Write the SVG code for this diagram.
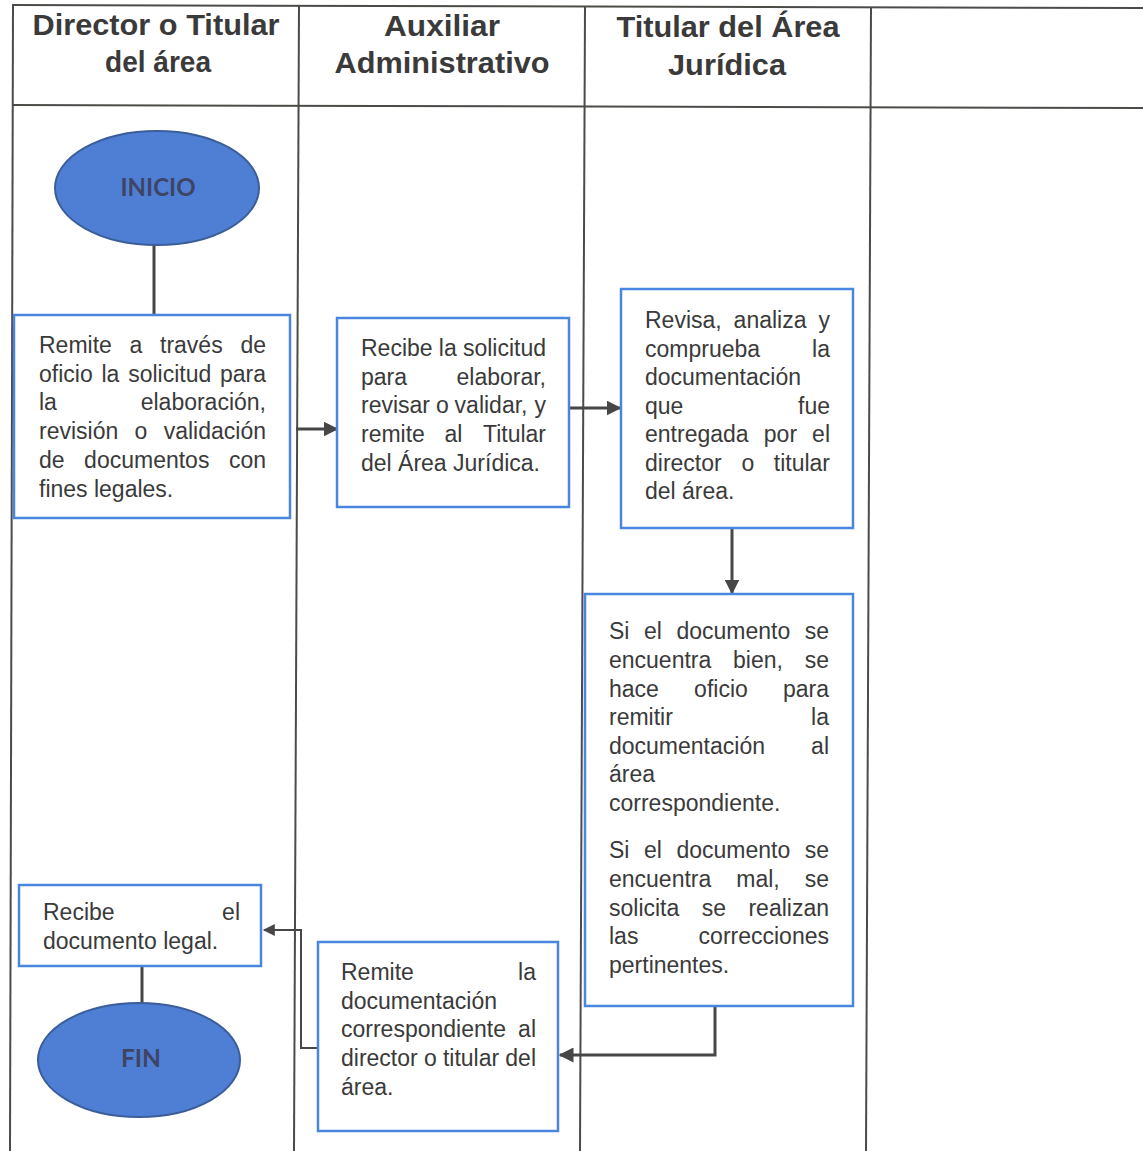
<svg xmlns="http://www.w3.org/2000/svg" width="1143" height="1151" viewBox="0 0 1143 1151">
<style>
.grid{stroke:#4d4b48;stroke-width:2;fill:none}
.hdr{font-family:"Liberation Sans",Arial,sans-serif;font-weight:bold;font-size:29px;fill:#3a3a3a;text-anchor:middle}
.box{fill:#ffffff;stroke:#4a86e0;stroke-width:2.5}
.t{font-family:"Liberation Sans",Arial,sans-serif;font-size:23px;fill:#3a3a3a}
.e{text-anchor:end}
.oval{fill:#4f7fd4;stroke:#3b5d99;stroke-width:2}
.ot{font-family:Lato,"Open Sans",sans-serif;font-weight:bold;font-size:24px;fill:#3e4464;text-anchor:middle}
.con{stroke:#474747;stroke-width:3;fill:none}
.con2{stroke:#474747;stroke-width:2;fill:none}
</style>
<defs>
<marker id="ah" viewBox="0 0 10 10" refX="9" refY="5" markerWidth="5" markerHeight="5" orient="auto" markerUnits="strokeWidth">
<path d="M0,0 L10,5 L0,10 Z" fill="#474747"/>
</marker>
<marker id="ah2" viewBox="0 0 10 10" refX="9" refY="5" markerWidth="7" markerHeight="6" orient="auto" markerUnits="strokeWidth">
<path d="M0,0 L10,5 L0,10 Z" fill="#474747"/>
</marker>
</defs>
<rect width="1143" height="1151" fill="#ffffff"/>
<g id="table">
<line class="grid" x1="12" y1="5" x2="1143" y2="8"/>
<line class="grid" x1="12" y1="105" x2="1143" y2="108"/>
<line class="grid" x1="13" y1="5" x2="10" y2="1151"/>
<line class="grid" x1="299" y1="5" x2="294" y2="1151"/>
<line class="grid" x1="585" y1="6" x2="580" y2="1151"/>
<line class="grid" x1="871" y1="7" x2="866" y2="1151"/>
</g>
<g id="headers">
<text class="hdr" x="156" y="35" textLength="247" lengthAdjust="spacingAndGlyphs">Director o Titular</text>
<text class="hdr" x="158" y="72" textLength="106" lengthAdjust="spacingAndGlyphs">del área</text>
<text class="hdr" x="442" y="36" textLength="116" lengthAdjust="spacingAndGlyphs">Auxiliar</text>
<text class="hdr" x="442" y="73" textLength="215" lengthAdjust="spacingAndGlyphs">Administrativo</text>
<text class="hdr" x="728" y="37" textLength="223" lengthAdjust="spacingAndGlyphs">Titular del Área</text>
<text class="hdr" x="727" y="75" textLength="118" lengthAdjust="spacingAndGlyphs">Jurídica</text>
</g>
<g id="connectors">
<line class="con" x1="154" y1="245" x2="154" y2="315"/>
<line class="con" x1="296" y1="429" x2="337" y2="429" marker-end="url(#ah)"/>
<line class="con" x1="570" y1="408" x2="620" y2="408" marker-end="url(#ah)"/>
<line class="con" x1="732" y1="528" x2="732" y2="593" marker-end="url(#ah)"/>
<polyline class="con" points="715,1006 715,1055 560,1055" marker-end="url(#ah)"/>
<polyline class="con2" points="318,1048 301,1048 301,930 264,930" marker-end="url(#ah2)"/>
<line class="con" x1="142" y1="966" x2="142" y2="1004"/>
</g>
<g id="inicio">
<ellipse class="oval" cx="157" cy="188" rx="102" ry="57"/>
<text class="ot" x="158" y="196" textLength="75" lengthAdjust="spacingAndGlyphs">INICIO</text>
</g>
<g id="remite-oficio">
<rect class="box" x="14" y="315" width="276" height="203"/>
<text class="t"><tspan x="39" y="353">Remite</tspan><tspan x="129.5" y="353">a</tspan><tspan x="160" y="353">través</tspan><tspan class="e" x="266" y="353">de</tspan></text>
<text class="t"><tspan x="39" y="381.7">oficio</tspan><tspan x="101.5" y="381.7">la</tspan><tspan x="128.2" y="381.7">solicitud</tspan><tspan class="e" x="266" y="381.7">para</tspan></text>
<text class="t"><tspan x="39" y="410.4">la</tspan><tspan class="e" x="266" y="410.4">elaboración,</tspan></text>
<text class="t"><tspan x="39" y="439.1">revisión</tspan><tspan x="134.6" y="439.1">o</tspan><tspan class="e" x="266" y="439.1">validación</tspan></text>
<text class="t"><tspan x="39" y="467.8">de</tspan><tspan x="84.1" y="467.8">documentos</tspan><tspan class="e" x="266" y="467.8">con</tspan></text>
<text class="t" x="39" y="496.5">fines legales.</text>
</g>
<g id="recibe-solicitud">
<rect class="box" x="337" y="318" width="232" height="189"/>
<text class="t"><tspan x="361" y="356">Recibe</tspan><tspan x="438.8" y="356">la</tspan><tspan class="e" x="546" y="356">solicitud</tspan></text>
<text class="t"><tspan x="361" y="384.7">para</tspan><tspan class="e" x="546" y="384.7">elaborar,</tspan></text>
<text class="t"><tspan x="361" y="413.4">revisar</tspan><tspan x="435.9" y="413.4">o</tspan><tspan x="454.6" y="413.4">validar,</tspan><tspan class="e" x="546" y="413.4">y</tspan></text>
<text class="t"><tspan x="361" y="442.1">remite</tspan><tspan x="444.5" y="442.1">al</tspan><tspan class="e" x="546" y="442.1">Titular</tspan></text>
<text class="t" x="361" y="470.8">del Área Jurídica.</text>
</g>
<g id="revisa">
<rect class="box" x="621" y="289" width="232" height="239"/>
<text class="t"><tspan x="645" y="328">Revisa,</tspan><tspan x="733.6" y="328">analiza</tspan><tspan class="e" x="830" y="328">y</tspan></text>
<text class="t"><tspan x="645" y="356.5">comprueba</tspan><tspan class="e" x="830" y="356.5">la</tspan></text>
<text class="t" x="645" y="385">documentación</text>
<text class="t"><tspan x="645" y="413.5">que</tspan><tspan class="e" x="830" y="413.5">fue</tspan></text>
<text class="t"><tspan x="645" y="442">entregada</tspan><tspan x="763.8" y="442">por</tspan><tspan class="e" x="830" y="442">el</tspan></text>
<text class="t"><tspan x="645" y="470.5">director</tspan><tspan x="741.4" y="470.5">o</tspan><tspan class="e" x="830" y="470.5">titular</tspan></text>
<text class="t" x="645" y="499">del área.</text>
</g>
<g id="decision">
<rect class="box" x="585" y="594" width="268" height="412"/>
<text class="t"><tspan x="609" y="639">Si</tspan><tspan x="643.9" y="639">el</tspan><tspan x="676.4" y="639">documento</tspan><tspan class="e" x="829" y="639">se</tspan></text>
<text class="t"><tspan x="609" y="668">encuentra</tspan><tspan x="733" y="668">bien,</tspan><tspan class="e" x="829" y="668">se</tspan></text>
<text class="t"><tspan x="609" y="696.5">hace</tspan><tspan x="694.1" y="696.5">oficio</tspan><tspan class="e" x="829" y="696.5">para</tspan></text>
<text class="t"><tspan x="609" y="725">remitir</tspan><tspan class="e" x="829" y="725">la</tspan></text>
<text class="t"><tspan x="609" y="753.5">documentación</tspan><tspan class="e" x="829" y="753.5">al</tspan></text>
<text class="t" x="609" y="782">área</text>
<text class="t" x="609" y="810.5">correspondiente.</text>
<text class="t"><tspan x="609" y="858">Si</tspan><tspan x="643.9" y="858">el</tspan><tspan x="676.4" y="858">documento</tspan><tspan class="e" x="829" y="858">se</tspan></text>
<text class="t"><tspan x="609" y="887">encuentra</tspan><tspan x="736.3" y="887">mal,</tspan><tspan class="e" x="829" y="887">se</tspan></text>
<text class="t"><tspan x="609" y="915.5">solicita</tspan><tspan x="701.8" y="915.5">se</tspan><tspan class="e" x="829" y="915.5">realizan</tspan></text>
<text class="t"><tspan x="609" y="944">las</tspan><tspan class="e" x="829" y="944">correcciones</tspan></text>
<text class="t" x="609" y="972.5">pertinentes.</text>
</g>
<g id="remite-documentacion">
<rect class="box" x="318" y="942" width="240" height="189"/>
<text class="t"><tspan x="341" y="980">Remite</tspan><tspan class="e" x="536" y="980">la</tspan></text>
<text class="t" x="341" y="1008.7">documentación</text>
<text class="t"><tspan x="341" y="1037.4">correspondiente</tspan><tspan class="e" x="536" y="1037.4">al</tspan></text>
<text class="t"><tspan x="341" y="1066">director</tspan><tspan x="423.9" y="1066">o</tspan><tspan x="442.9" y="1066">titular</tspan><tspan class="e" x="536" y="1066">del</tspan></text>
<text class="t" x="341" y="1094.7">área.</text>
</g>
<g id="recibe-documento">
<rect class="box" x="19" y="885" width="242" height="81"/>
<text class="t"><tspan x="43" y="920">Recibe</tspan><tspan class="e" x="240" y="920">el</tspan></text>
<text class="t" x="43" y="948.5">documento legal.</text>
</g>
<g id="fin">
<ellipse class="oval" cx="139" cy="1060" rx="101" ry="57"/>
<text class="ot" x="141" y="1067" textLength="40" lengthAdjust="spacingAndGlyphs">FIN</text>
</g>
</svg>
